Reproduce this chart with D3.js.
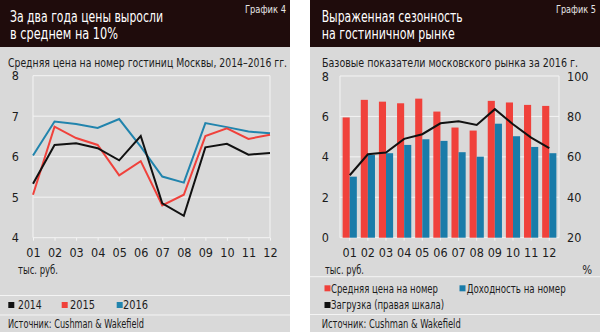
<!DOCTYPE html>
<html>
<head>
<meta charset="utf-8">
<script src="https://cdn.jsdelivr.net/npm/d3@7"></script>
<style>
  html, body { margin: 0; padding: 0; background: #fff; }
  svg { display: block; }
  text { font-family: "Liberation Sans Narrow", "DejaVu Sans Condensed", "Roboto Condensed", "Liberation Sans", sans-serif; }
</style>
</head>
<body>
<svg id="chart" width="600" height="332"></svg>
<script>
// ---- data ----
const months = ["01", "02", "03", "04", "05", "06", "07", "08", "09", "10", "11", "12"];

// average room price in Moscow hotels, thousand roubles
const price2014 = [5.33, 6.29, 6.33, 6.21, 5.91, 6.51, 4.85, 4.54, 6.23, 6.32, 6.05, 6.09];
const price2015 = [5.06, 6.74, 6.46, 6.29, 5.54, 5.89, 4.80, 5.06, 6.51, 6.70, 6.44, 6.54];
const price2016 = [6.03, 6.87, 6.81, 6.71, 6.93, 6.25, 5.51, 5.36, 6.83, 6.73, 6.62, 6.58];
const seriesYears = ["2014", "2015", "2016"];

// Moscow market, 2016
const avgRate2016 = [5.95, 6.82, 6.73, 6.65, 6.88, 6.24, 5.45, 5.30, 6.77, 6.69, 6.57, 6.52];   // thousand roubles
const revPar2016 = [3.02, 4.09, 4.18, 4.59, 4.87, 4.79, 4.23, 4.01, 5.64, 5.02, 4.49, 4.18];    // thousand roubles
const occupancy2016 = [50.9, 61.3, 62.1, 68.9, 71.2, 76.6, 77.6, 75.8, 83.6, 76.1, 69.5, 64.3]; // %

const priceTicks = [4, 5, 6, 7, 8];
const roubleTicks = [0, 2, 4, 6, 8];
const percentTicks = [20, 40, 60, 80, 100];

// ---- styles ----
const panelGray = "#d9d9d9";
const headDark = "#1f0c0c";
const ink = "#1c1c1c";
const gridColor = "#f4f4f4";
const colBlack = "#111111";
const colRed = "#f0413b";
const colBlue = "#1a7ca9";
const colBlueLine = "#2184ad";

const svg = d3.select("#chart");

function label(g, str, x, y, size, opts = {}) {
  const t = g.append("text")
    .attr("x", x).attr("y", y)
    .attr("font-size", size)
    .attr("fill", opts.fill || ink)
    .text(str);
  if (opts.anchor) t.attr("text-anchor", opts.anchor);
  if (opts.width) t.attr("textLength", opts.width).attr("lengthAdjust", "spacingAndGlyphs");
  return t;
}

function panel(x0, w) {
  const g = svg.append("g");
  g.append("rect").attr("x", x0).attr("y", 0).attr("width", w).attr("height", 332).attr("fill", panelGray);
  g.append("rect").attr("x", x0).attr("y", 0).attr("width", w).attr("height", 47).attr("fill", headDark);
  return g;
}

// ================= left panel: price by year =================
const L = panel(0, 290);
label(L, "За два года цены выросли", 10, 21.5, 15.5, { fill: "#fff", width: 153 });
label(L, "в среднем на 10%", 10, 38.5, 15.5, { fill: "#fff", width: 108 });
label(L, "График 4", 245, 13, 10, { fill: "#e6e6e6", width: 41 });
label(L, "Средняя цена на номер гостиниц Москвы, 2014–2016 гг.", 8, 66.5, 11.5, { width: 279 });

const xL = d3.scalePoint().domain(months).range([33, 270]);
const yL = d3.scaleLinear().domain([4, 8]).range([237.7, 75.7]);

const gridL = L.append("g");
gridL.selectAll("line.h").data(priceTicks).join("line")
  .attr("x1", 33).attr("x2", 270)
  .attr("y1", d => yL(d)).attr("y2", d => yL(d))
  .attr("stroke", gridColor).attr("stroke-width", 1);
gridL.selectAll("line.v").data([33, 270]).join("line")
  .attr("x1", d => d).attr("x2", d => d)
  .attr("y1", yL(8)).attr("y2", yL(4))
  .attr("stroke", gridColor).attr("stroke-width", 1);

const axL = L.append("g").attr("transform", `translate(0,${yL(4)})`)
  .call(d3.axisBottom(xL).tickSize(3).tickPadding(7));
axL.select(".domain").remove();
axL.selectAll(".tick line").attr("stroke", gridColor);
axL.selectAll(".tick text").attr("font-size", 12.5).attr("fill", ink).attr("font-family", null);

const ayL = L.append("g").attr("transform", "translate(33,0)")
  .call(d3.axisLeft(yL).tickValues(priceTicks).tickSize(0).tickPadding(14).tickFormat(d3.format("d")));
ayL.select(".domain").remove();
ayL.selectAll(".tick text").attr("font-size", 12.5).attr("fill", ink).attr("font-family", null);

label(L, "тыс. руб.", 18, 274, 11.5, { width: 40 });

const lineL = d3.line().x((d, i) => xL(months[i])).y(d => yL(d));
[[price2016, colBlueLine], [price2015, colRed], [price2014, colBlack]].forEach(([vals, c]) => {
  L.append("path").datum(vals).attr("d", lineL)
    .attr("fill", "none").attr("stroke", c).attr("stroke-width", 2)
    .attr("stroke-linejoin", "miter");
});

// separators, legend, source
[295.5, 315].forEach(y => L.append("line").attr("x1", 0).attr("x2", 290).attr("y1", y).attr("y2", y)
  .attr("stroke", gridColor).attr("stroke-width", 1));
const legL = [
  { name: seriesYears[0], color: colBlack, sx: 8.3, tx: 18, w: 23.7 },
  { name: seriesYears[1], color: colRed, sx: 61.7, tx: 70, w: 25 },
  { name: seriesYears[2], color: colBlueLine, sx: 116.7, tx: 123, w: 25 }
];
legL.forEach(d => {
  L.append("rect").attr("x", d.sx).attr("y", 302).attr("width", 6).attr("height", 6).attr("fill", d.color);
  label(L, d.name, d.tx, 309.3, 12.5, { width: d.w });
});
label(L, "Источник: Cushman & Wakefield", 8, 328, 12, { width: 136 });

// ================= right panel: 2016 market indicators =================
const R = panel(310, 290);
label(R, "Выраженная сезонность", 321.7, 21.5, 15.5, { fill: "#fff", width: 141 });
label(R, "на гостиничном рынке", 321.7, 38.5, 15.5, { fill: "#fff", width: 133 });
label(R, "График 5", 556, 13, 10, { fill: "#e6e6e6", width: 40 });
label(R, "Базовые показатели московского рынка за 2016 г.", 322, 66.5, 11.5, { width: 256 });

const xR = d3.scaleBand().domain(months).range([340, 559]).paddingInner(0.217).paddingOuter(0.145);
const xSub = d3.scaleBand().domain(["rate", "revpar"]).range([0, xR.bandwidth()]);
const yR = d3.scaleLinear().domain([0, 8]).range([237.7, 76]);
const yPct = d3.scaleLinear().domain([20, 100]).range([237.7, 76]);

const gridR = R.append("g");
gridR.selectAll("line.h").data(roubleTicks).join("line")
  .attr("x1", 340).attr("x2", 559)
  .attr("y1", d => yR(d)).attr("y2", d => yR(d))
  .attr("stroke", gridColor).attr("stroke-width", 1);
gridR.selectAll("line.v").data([340, 559]).join("line")
  .attr("x1", d => d).attr("x2", d => d)
  .attr("y1", yR(8)).attr("y2", yR(0))
  .attr("stroke", gridColor).attr("stroke-width", 1);

const axR = R.append("g").attr("transform", `translate(0,${yR(0)})`)
  .call(d3.axisBottom(xR).tickSize(3).tickPadding(7));
axR.select(".domain").remove();
axR.selectAll(".tick line").attr("stroke", gridColor);
axR.selectAll(".tick text").attr("font-size", 12.5).attr("fill", ink).attr("font-family", null);

const ayR = R.append("g").attr("transform", "translate(340,0)")
  .call(d3.axisLeft(yR).tickValues(roubleTicks).tickSize(0).tickPadding(11).tickFormat(d3.format("d")));
ayR.select(".domain").remove();
ayR.selectAll(".tick text").attr("font-size", 12.5).attr("fill", ink).attr("font-family", null);

const ayR2 = R.append("g").attr("transform", "translate(559,0)")
  .call(d3.axisRight(yPct).tickValues(percentTicks).tickSize(0).tickPadding(8).tickFormat(d3.format("d")));
ayR2.select(".domain").remove();
ayR2.selectAll(".tick text").attr("font-size", 12.5).attr("fill", ink).attr("font-family", null);

label(R, "тыс. руб.", 325, 274, 11.5, { width: 39 });
label(R, "%", 592, 274, 11.5, { anchor: "end" });

const barData = months.map((m, i) => ({ m, rate: avgRate2016[i], revpar: revPar2016[i] }));
const groups = R.append("g").selectAll("g").data(barData).join("g")
  .attr("transform", d => `translate(${xR(d.m)},0)`);
groups.append("rect")
  .attr("x", xSub("rate")).attr("width", xSub.bandwidth())
  .attr("y", d => yR(d.rate)).attr("height", d => yR(0) - yR(d.rate))
  .attr("fill", colRed);
groups.append("rect")
  .attr("x", xSub("revpar")).attr("width", xSub.bandwidth())
  .attr("y", d => yR(d.revpar)).attr("height", d => yR(0) - yR(d.revpar))
  .attr("fill", colBlue);

const lineR = d3.line().x((d, i) => xR(months[i]) + xR.bandwidth() / 2).y(d => yPct(d));
R.append("path").datum(occupancy2016).attr("d", lineR)
  .attr("fill", "none").attr("stroke", colBlack).attr("stroke-width", 2);

[276.7, 314.5].forEach(y => R.append("line").attr("x1", 310).attr("x2", 600).attr("y1", y).attr("y2", y)
  .attr("stroke", gridColor).attr("stroke-width", 1));
const legR = [
  { name: "Средняя цена на номер", color: colRed, sx: 324.5, sy: 285.3, tx: 331, ty: 292.5, w: 107 },
  { name: "Доходность на номер", color: colBlue, sx: 459.5, sy: 285.3, tx: 466.7, ty: 292.5, w: 99 },
  { name: "Загрузка (правая шкала)", color: colBlack, sx: 324.5, sy: 302, tx: 331, ty: 309.3, w: 113 }
];
legR.forEach(d => {
  R.append("rect").attr("x", d.sx).attr("y", d.sy).attr("width", 6).attr("height", 6).attr("fill", d.color);
  label(R, d.name, d.tx, d.ty, 12.5, { width: d.w });
});
label(R, "Источник: Cushman & Wakefield", 321.7, 328, 12, { width: 139 });
</script>
</body>
</html>
